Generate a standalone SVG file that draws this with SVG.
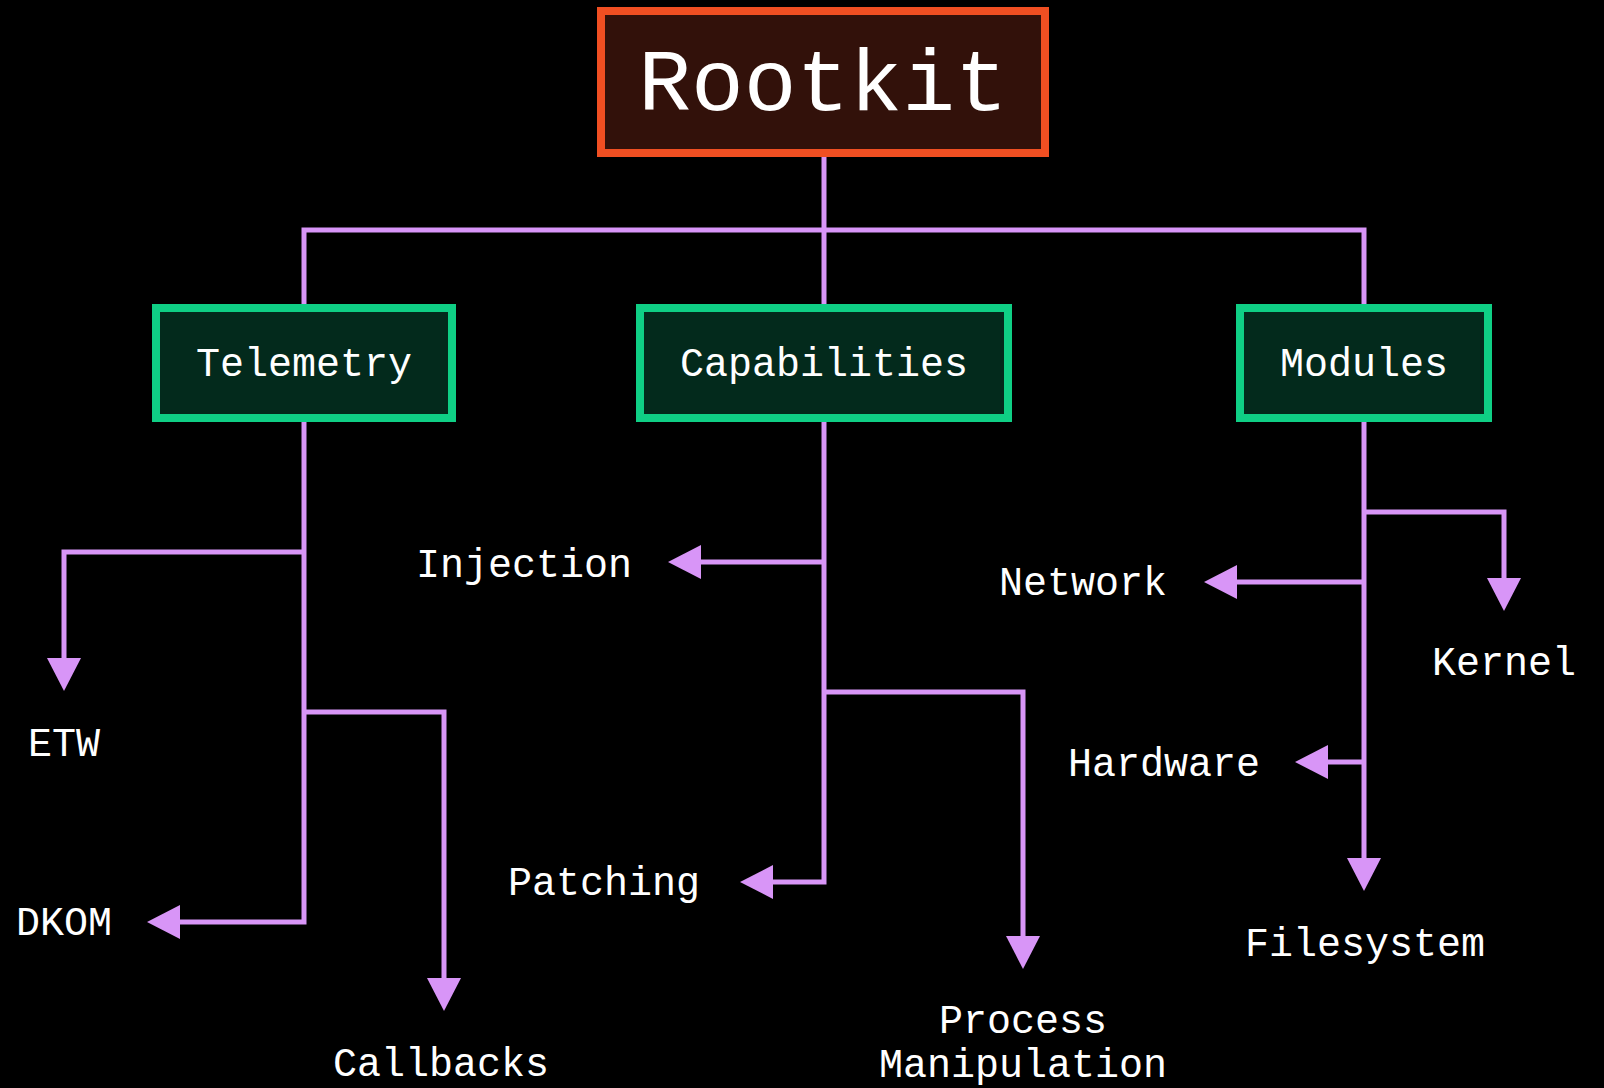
<svg xmlns="http://www.w3.org/2000/svg" width="1604" height="1088" viewBox="0 0 1604 1088">
  <style>
    .bg { fill: #000000; }
    .root-box { fill: #32110a; stroke: #f04f22; stroke-width: 8; }
    .cat-box { fill: #032a1c; stroke: #0fcf85; stroke-width: 8; }
    .title { font-family: "Liberation Mono", "DejaVu Sans Mono", monospace; font-size: 88px; fill: #ffffff; text-anchor: middle; }
    .label { font-family: "Liberation Mono", "DejaVu Sans Mono", monospace; font-size: 40px; fill: #ffffff; text-anchor: middle; }
    .wire { fill: none; stroke: #d895f7; stroke-width: 5; stroke-linejoin: miter; }
    .arrow { marker-end: url(#head); }
  </style>
  <defs>
    <marker id="head" markerUnits="userSpaceOnUse" markerWidth="34" markerHeight="34" refX="1" refY="17" orient="auto">
      <path d="M0,0 L33,17 L0,34 Z" fill="#d895f7"/>
    </marker>
  </defs>

  <rect class="bg" x="0" y="0" width="1604" height="1088"/>

  <!-- connectors -->
  <g id="connectors">
    <!-- root to categories -->
    <path class="wire" d="M824,157 V304"/>
    <path class="wire" d="M304,304 V230 H1364 V304"/>
    <!-- Telemetry -->
    <path class="wire arrow" d="M304,552 H64 V659"/>
    <path class="wire arrow" d="M304,712 H444 V979"/>
    <path class="wire arrow" d="M304,422 V922 H179"/>
    <!-- Capabilities -->
    <path class="wire arrow" d="M824,562 H700"/>
    <path class="wire arrow" d="M824,692 H1023 V937"/>
    <path class="wire arrow" d="M824,422 V882 H772"/>
    <!-- Modules -->
    <path class="wire arrow" d="M1364,512 H1504 V579"/>
    <path class="wire arrow" d="M1364,582 H1236"/>
    <path class="wire arrow" d="M1364,762 H1327"/>
    <path class="wire arrow" d="M1364,422 V859"/>
  </g>

  <!-- nodes -->
  <g id="rootkit">
    <rect class="root-box" x="601" y="11" width="444" height="142"/>
    <text class="title" x="823" y="110">Rootkit</text>
  </g>
  <g id="telemetry">
    <rect class="cat-box" x="156" y="308" width="296" height="110"/>
    <text class="label" x="304" y="376">Telemetry</text>
  </g>
  <g id="capabilities">
    <rect class="cat-box" x="640" y="308" width="368" height="110"/>
    <text class="label" x="824" y="376">Capabilities</text>
  </g>
  <g id="modules">
    <rect class="cat-box" x="1240" y="308" width="248" height="110"/>
    <text class="label" x="1364" y="376">Modules</text>
  </g>

  <g id="etw"><text class="label" x="64" y="756">ETW</text></g>
  <g id="dkom"><text class="label" x="64" y="935">DKOM</text></g>
  <g id="callbacks"><text class="label" x="441" y="1076">Callbacks</text></g>
  <g id="injection"><text class="label" x="524" y="577">Injection</text></g>
  <g id="patching"><text class="label" x="604" y="895">Patching</text></g>
  <g id="process-manipulation">
    <text class="label" x="1023" y="1033">Process</text>
    <text class="label" x="1023" y="1077">Manipulation</text>
  </g>
  <g id="network"><text class="label" x="1083" y="595">Network</text></g>
  <g id="kernel"><text class="label" x="1504" y="675">Kernel</text></g>
  <g id="hardware"><text class="label" x="1164" y="776">Hardware</text></g>
  <g id="filesystem"><text class="label" x="1365" y="956">Filesystem</text></g>
</svg>
